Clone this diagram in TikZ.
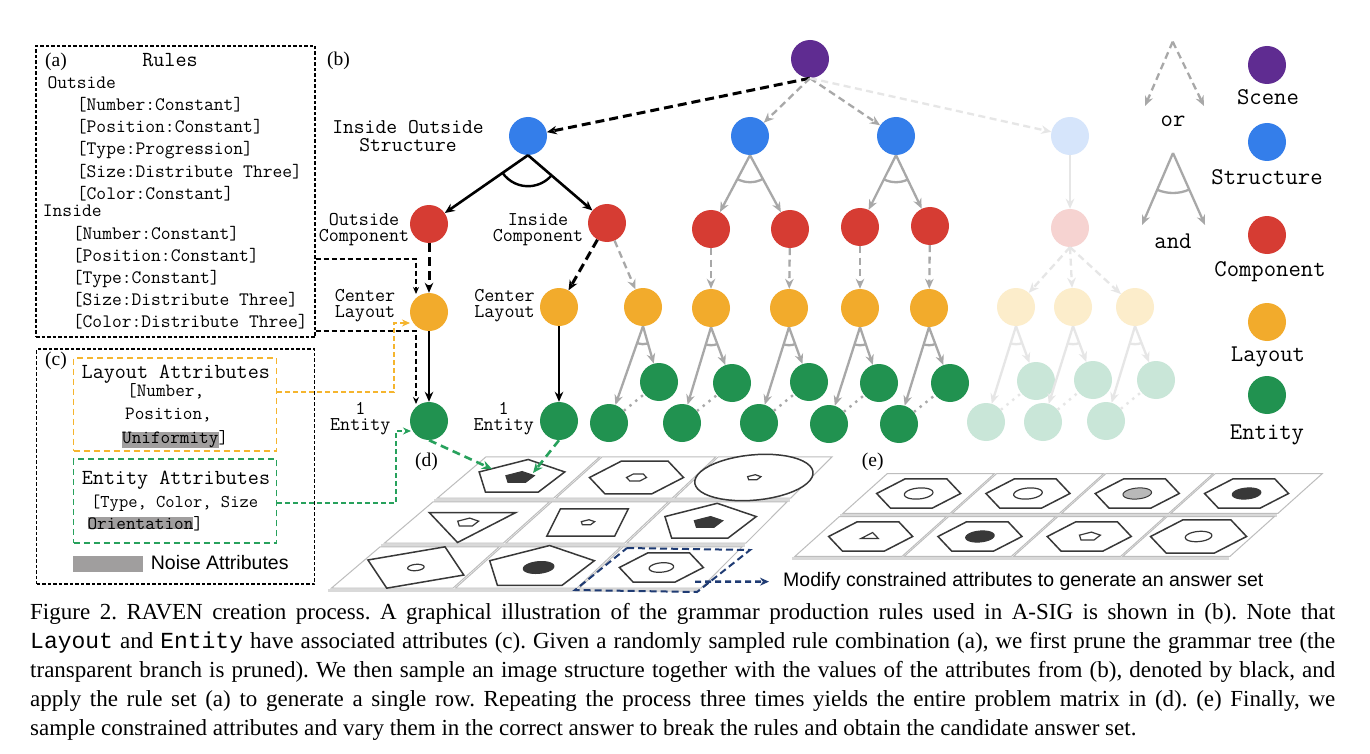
\documentclass[tikz,border=0pt]{standalone}
\usepackage{fontspec}
\setmainfont{Liberation Serif}
\setsansfont{Liberation Sans}
\newfontfamily\capmono{Liberation Mono}
\usetikzlibrary{arrows.meta,calc}
\definecolor{cScene}{HTML}{5F2C91}
\definecolor{cStr}{HTML}{347EEA}
\definecolor{cCmp}{HTML}{D63C33}
\definecolor{cLay}{HTML}{F2AB2C}
\definecolor{cEnt}{HTML}{219250}
\definecolor{cStrF}{HTML}{D6E5FB}
\definecolor{cCmpF}{HTML}{F6D3D1}
\definecolor{cLayF}{HTML}{FCEDCB}
\definecolor{cEntF}{HTML}{C9E6D8}
\definecolor{cGray}{HTML}{A8A8A8}
\definecolor{cLight}{HTML}{E6E6E6}
\definecolor{cOrg}{HTML}{F5B52E}
\definecolor{cGrn}{HTML}{27A15C}
\definecolor{cNavy}{HTML}{1F3B73}
\definecolor{cNoise}{HTML}{A09E9E}
\definecolor{cShape}{HTML}{383838}
\definecolor{cTile}{HTML}{BDBDBD}
\pgfmathdeclarefunction{dX}{2}{\pgfmathparse{487-53*#2+#1*(116+2.7*#2)}}
\pgfmathdeclarefunction{dY}{2}{\pgfmathparse{455+45*#2}}
\pgfmathdeclarefunction{eX}{2}{\pgfmathparse{888-48*#2+#1*109.3}}
\pgfmathdeclarefunction{eY}{2}{\pgfmathparse{472+43*#2}}
\newcommand{\andarc}[5]{\draw[#5] let \p1=(#1), \p2=(#2), \p3=(#3), \n1={atan2(\y2-\y1,\x2-\x1)}, \n2={atan2(\y3-\y1,\x3-\x1)} in (\p1) ++(\n1:#4) arc[start angle=\n1, end angle=\n2, radius=#4];}
\newcommand{\ptile}[3]{% #1 prefix, #2 col, #3 row
  \filldraw[fill=white, draw=cTile, line width=1pt]
   ({#1X(#2+.01,#3+.04)},{#1Y(#2+.01,#3+.04)}) -- ({#1X(#2+.99,#3+.04)},{#1Y(#2+.99,#3+.04)}) --
   ({#1X(#2+.99,#3+.96)},{#1Y(#2+.99,#3+.96)}) -- ({#1X(#2+.01,#3+.96)},{#1Y(#2+.01,#3+.96)}) -- cycle;}
\newcommand{\sh}[8]{% #1 prefix, #2 u, #3 v, #4 n, #5 R, #6 rot, #7 skew, #8 style
  \pgfmathsetmacro\shx{#1X(#2,#3)}\pgfmathsetmacro\shy{#1Y(#2,#3)}\pgfmathtruncatemacro\shn{#4+1}%
  \draw[#8] plot[domain=0:360, samples=\shn, variable=\t] ({\shx+#5*cos(#6+\t)-#7*0.4*#5*sin(#6+\t)},{\shy+0.4*#5*sin(#6+\t)}) -- cycle;}
\newcommand{\hl}[1]{{\setlength{\fboxsep}{0pt}\colorbox{cNoise}{#1}}}
\frenchspacing
\begin{document}
\begin{tikzpicture}[x=1pt,y=-1pt,
  nd/.style={circle,minimum size=38pt,inner sep=0pt},
  scn/.style={nd,fill=cScene}, strn/.style={nd,fill=cStr}, strf/.style={nd,fill=cStrF},
  cmpn/.style={nd,fill=cCmp}, cmpf/.style={nd,fill=cCmpF},
  layn/.style={nd,fill=cLay}, layf/.style={nd,fill=cLayF},
  entn/.style={nd,fill=cEnt}, entf/.style={nd,fill=cEntF},
  tip/.style={-{Stealth[length=10pt,width=8.5pt]}},
  blk/.style={tip,line width=2.6pt,black},
  gry/.style={tip,line width=2.3pt,cGray},
  lgt/.style={tip,line width=2.3pt,cLight},
  dsh/.style={dash pattern=on 7pt off 4.5pt},
  bigdsh/.style={dash pattern=on 9pt off 5pt},
  dotg/.style={line width=2.4pt,cGray,dash pattern=on 2.4pt off 5pt},
  dotl/.style={line width=2.4pt,cLight,dash pattern=on 2.4pt off 5pt},
  arcb/.style={line width=2.4pt,black},
  arcg/.style={line width=2.3pt,cGray},
  arcl/.style={line width=2.3pt,cLight},
  lab2/.style={font=\fontsize{19.5}{16.3}\selectfont\ttfamily,inner sep=0pt,align=center},
  leg/.style={font=\fontsize{24}{24}\selectfont\ttfamily,inner sep=0pt,anchor=base},
  rl/.style={font=\fontsize{19}{22}\selectfont\ttfamily,inner sep=0pt,anchor=base west},
  cl/.style={font=\fontsize{18.7}{22}\selectfont\ttfamily,inner sep=0pt,anchor=base west},
  ser/.style={font=\fontsize{19.5}{20}\selectfont\rmfamily,inner sep=0pt,anchor=base west},
  abox/.style={draw,line width=1.2pt,dash pattern=on 3.5pt off 2pt,inner sep=0pt},
  thinblk/.style={-{Stealth[length=7pt,width=6pt]},line width=1.3pt,black,dash pattern=on 5pt off 3pt},
  orgc/.style={-{Stealth[length=8pt,width=7pt]},line width=1.6pt,cOrg,dash pattern=on 5pt off 3pt},
  grnc/.style={-{Stealth[length=8pt,width=7pt]},line width=1.6pt,cGrn,dash pattern=on 5pt off 3pt},
  grnthick/.style={-{Stealth[length=10pt,width=8.5pt]},line width=2.6pt,cGrn,dash pattern=on 8pt off 5pt},
  outer/.style={draw=cShape,line width=1.5pt,fill=white},
  inw/.style={draw=cShape,line width=1.2pt,fill=white},
  inb/.style={draw=cShape,line width=1pt,fill=cShape},
  ing/.style={draw=cShape,line width=1pt,fill=gray!55},
  capl/.style={font=\fontsize{23}{28}\selectfont\rmfamily,inner sep=0pt,anchor=base west}
]
\path[fill=white] (0,0) rectangle (1370,754);

% ---------------- (a) rules box
\node[abox,minimum width=279pt,minimum height=291pt] (rulesbox) at (175.5,191.5) {};
\node[ser] (alab) at (45,66.7) {(a)};
\node[font=\fontsize{21.5}{22}\selectfont\ttfamily,inner sep=0pt,anchor=base] (rulesT) at (170,66.7) {Rules};
\node[rl] (r0) at (47.3,88.3) {Outside};
\node[rl] (r1) at (76.7,110.7) {[Number:Constant]};
\node[rl] (r2) at (76.7,132.7) {[Position:Constant]};
\node[rl] (r3) at (76.7,155) {[Type:Progression]};
\node[rl] (r4) at (76.7,177.3) {[Size:Distribute Three]};
\node[rl] (r5) at (76.7,199.3) {[Color:Constant]};
\node[rl] (r6) at (42.7,216.7) {Inside};
\node[rl] (r7) at (72.7,239) {[Number:Constant]};
\node[rl] (r8) at (72.7,261.7) {[Position:Constant]};
\node[rl] (r9) at (72.7,283.3) {[Type:Constant]};
\node[rl] (r10) at (72.7,305.7) {[Size:Distribute Three]};
\node[rl] (r11) at (72.7,327.3) {[Color:Distribute Three]};

% ---------------- (c) attributes box
\node[abox,minimum width=278pt,minimum height=235pt] (cbox) at (175.8,466.5) {};
\node[ser] (clab) at (45,365) {(c)};
\node[draw=cOrg,line width=1.8pt,dash pattern=on 6pt off 4pt,minimum width=203pt,minimum height=93pt,inner sep=0pt] (laybox) at (175,404.2) {};
\node[font=\fontsize{21.5}{22}\selectfont\ttfamily,inner sep=0pt,anchor=base] (layT) at (175.8,378.3) {Layout Attributes};
\node[cl] (la1) at (127,396.7) {[Number,};
\node[cl] (la2) at (125,419.3) {Position,};
\node[cl] (la3) at (122,443.3) {\hl{Uniformity}]};
\node[draw=cGrn,line width=1.8pt,dash pattern=on 6pt off 4pt,minimum width=203pt,minimum height=84pt,inner sep=0pt] (entbox) at (175,501.3) {};
\node[font=\fontsize{21.5}{22}\selectfont\ttfamily,inner sep=0pt,anchor=base] (entT) at (176,484) {Entity Attributes};
\node[cl,font=\fontsize{18}{22}\selectfont\ttfamily] (ea1) at (91,507.3) {[Type, Color, Size};
\node[cl] (ea2) at (87.3,529) {\hl{Orientation}]};
\node[fill=cNoise,minimum width=70pt,minimum height=16.6pt,inner sep=0pt] (noisebox) at (108.3,564) {};
\node[font=\fontsize{19.5}{20}\selectfont\sffamily,inner sep=0pt,anchor=base west] (noiseT) at (150.7,569.3) {Noise Attributes};

% ---------------- (b) tree
\node[ser] (blab) at (327,66) {(b)};
\node[scn] (scene) at (810,59) {};
\node[strn] (s1) at (528,136) {};
\node[strn] (s2) at (750,136) {};
\node[strn] (s3) at (896,136) {};
\node[strf] (s4) at (1070,136) {};
\node[cmpn] (c1) at (429,224) {};
\node[cmpn] (c2) at (607,223) {};
\node[cmpn] (c3) at (711,229) {};
\node[cmpn] (c4) at (790,229) {};
\node[cmpn] (c5) at (860,227) {};
\node[cmpn] (c6) at (930,226) {};
\node[cmpf] (c7) at (1070,228) {};
\node[layn] (l1) at (429,312) {};
\node[layn] (l2) at (559,307) {};
\node[layn] (l3) at (643,307) {};
\node[layn] (l4) at (711,308) {};
\node[layn] (l5) at (789,308) {};
\node[layn] (l6) at (860,308) {};
\node[layn] (l7) at (929,308) {};
\node[layf] (l8) at (1016,307) {};
\node[layf] (l9) at (1073,307) {};
\node[layf] (l10) at (1135,307) {};
\node[entn] (e1) at (429,421) {};
\node[entn] (e2) at (559,421) {};
\node[entn] (u3) at (659,382) {};
\node[entn] (u4) at (732,383) {};
\node[entn] (u5) at (809,382) {};
\node[entn] (u6) at (879,383) {};
\node[entn] (u7) at (950,383) {};
\node[entn] (d3) at (609,423) {};
\node[entn] (d4) at (682,423) {};
\node[entn] (d5) at (759,423) {};
\node[entn] (d6) at (829,424) {};
\node[entn] (d7) at (899,424) {};
\node[entf] (u8) at (1036,381) {};
\node[entf] (u9) at (1093,380) {};
\node[entf] (u10) at (1156,380) {};
\node[entf] (d8) at (986,422) {};
\node[entf] (d9) at (1043,422) {};
\node[entf] (d10) at (1106,421) {};

% tree labels
\node[lab2,font=\fontsize{21}{18.5}\selectfont\ttfamily] (tIOS) at (408,136) {Inside Outside\\Structure};
\node[lab2] (tOC) at (364,229.5) {Outside\\Component};
\node[lab2] (tIC) at (538,229.5) {Inside\\Component};
\node[lab2] (tCL1) at (365,305.5) {Center\\Layout};
\node[lab2] (tCL2) at (504.5,305.5) {Center\\Layout};
\node[lab2] (tE1) at (360.3,418.5) {1\\Entity};
\node[lab2] (tE2) at (503.7,418.5) {1\\Entity};

% tree edges
\draw[blk,bigdsh,line width=3pt] (scene.south) -- (s1);
\draw[gry,dsh] (scene.south) -- (s2);
\draw[gry,dsh] (scene.south) -- (s3);
\draw[lgt,dsh] (scene.south) -- (s4);
\draw[blk] (s1.south) -- (c1);
\draw[blk] (s1.south) -- (c2);
\andarc{s1.south}{c1}{c2}{31pt}{arcb}
\draw[gry] (s2.south) -- (c3);
\draw[gry] (s2.south) -- (c4);
\andarc{s2.south}{c3}{c4}{27pt}{arcg}
\draw[gry] (s3.south) -- (c5);
\draw[gry] (s3.south) -- (c6);
\andarc{s3.south}{c5}{c6}{27pt}{arcg}
\draw[lgt] (s4) -- (c7);
\draw[blk,bigdsh,line width=3pt] (c1) -- (l1);
\draw[blk,bigdsh,line width=3pt] (c2) -- (l2);
\draw[gry,dsh] (c2) -- (l3);
\draw[gry,dsh] (c3) -- (l4);
\draw[gry,dsh] (c4) -- (l5);
\draw[gry,dsh] (c5) -- (l6);
\draw[gry,dsh] (c6) -- (l7);
\draw[lgt,dsh] (c7.south) -- (l8);
\draw[lgt,dsh] (c7.south) -- (l9);
\draw[lgt,dsh] (c7.south) -- (l10);
\draw[blk] (l1) -- (e1);
\draw[blk] (l2) -- (e2);
\foreach \k in {3,...,7}{
  \draw[gry] (l\k.south) -- (d\k);
  \draw[gry] (l\k.south) -- (u\k);
  \andarc{l\k.south}{d\k}{u\k}{18pt}{arcg}
  \draw[dotg] (d\k) -- (u\k);
}
\foreach \k in {8,9,10}{
  \draw[lgt] (l\k.south) -- (d\k);
  \draw[lgt] (l\k.south) -- (u\k);
  \andarc{l\k.south}{d\k}{u\k}{18pt}{arcl}
  \draw[dotl] (d\k) -- (u\k);
}

% ---------------- legend
\coordinate (orA) at (1172.7,41.7);
\coordinate (orL) at (1145,106);
\coordinate (orR) at (1204,106);
\draw[gry,dsh] (orA) -- (orL);
\draw[gry,dsh] (orA) -- (orR);
\node[leg] (orT) at (1173,126.7) {or};
\coordinate (andA) at (1173,153);
\coordinate (andL) at (1142,225);
\coordinate (andR) at (1205,225);
\draw[gry] (andA) -- (andL);
\draw[gry] (andA) -- (andR);
\andarc{andA}{andL}{andR}{40pt}{arcg}
\node[leg] (andT) at (1173,248) {and};
\node[scn] (gScene) at (1267,65) {};
\node[leg] (gSceneT) at (1268,105) {Scene};
\node[strn] (gStr) at (1267,142) {};
\node[leg] (gStrT) at (1267,185) {Structure};
\node[cmpn] (gCmp) at (1267,235) {};
\node[leg] (gCmpT) at (1270,276) {Component};
\node[layn] (gLay) at (1267,322) {};
\node[leg] (gLayT) at (1268,361.7) {Layout};
\node[entn] (gEnt) at (1267,395) {};
\node[leg] (gEntT) at (1267,439) {Entity};

% ---------------- connectors from (a) and (c)
\coordinate (kA) at (416,259);
\coordinate (kA2) at (416,294);
\draw[thinblk] (rulesbox.east |- kA) -- (kA) -- (kA2);
\coordinate (kB) at (416,331);
\coordinate (kB2) at (416,404);
\draw[thinblk] (rulesbox.east |- kB) -- (kB) -- (kB2);
\coordinate (oA) at (394,392);
\coordinate (oB) at (394,323);
\coordinate (oC) at (410,323);
\draw[orgc] (laybox.east |- oA) -- (oA) -- (oB) -- (oC);
\coordinate (gA) at (396,503);
\coordinate (gB) at (396,431);
\coordinate (gC) at (411,431);
\draw[grnc] (entbox.east |- gA) -- (gA) -- (gB) -- (gC);

% ---------------- (d) matrix
\node[ser] (dlab) at (415,466.7) {(d)};
\foreach \r in {0,1,2}{
  \draw[line width=3pt,gray!30] ({dX(0,\r+1)},{dY(0,\r+1)}) -- ({dX(3,\r+1)},{dY(3,\r+1)});
  \foreach \c in {0,1,2}{\ptile{d}{\c}{\r}}
}
\sh{d}{0.5}{0.5}{5}{45}{-90}{0.5}{outer}
\sh{d}{0.5}{0.5}{5}{15}{-90}{0.5}{inb}
\sh{d}{1.5}{0.5}{6}{47}{0}{0.5}{outer}
\sh{d}{1.5}{0.5}{6}{10}{0}{0.5}{inw}
\sh{d}{2.5}{0.5}{48}{58}{0}{0.5}{outer}
\sh{d}{2.5}{0.5}{5}{7}{-90}{0.5}{inw}
\sh{d}{0.5}{1.5}{3}{50}{90}{0.5}{outer}
\sh{d}{0.5}{1.5}{5}{11}{-90}{0.5}{inw}
\sh{d}{1.5}{1.5}{4}{48}{45}{0.5}{outer}
\sh{d}{1.5}{1.5}{5}{7}{-90}{0.5}{inw}
\sh{d}{2.5}{1.5}{5}{48}{-90}{0.5}{outer}
\sh{d}{2.5}{1.5}{5}{15}{-90}{0.5}{inb}
\sh{d}{0.5}{2.5}{4}{55}{20}{0.5}{outer}
\sh{d}{0.5}{2.5}{40}{8}{0}{0.5}{inw}
\sh{d}{1.5}{2.5}{5}{55}{-90}{0.5}{outer}
\sh{d}{1.5}{2.5}{40}{15}{0}{0.5}{inb}
\sh{d}{2.5}{2.5}{6}{42}{0}{0.5}{outer}
\sh{d}{2.5}{2.5}{40}{12}{0}{0.5}{inw}
\coordinate (hl1) at (627,548);
\coordinate (hl2) at (750,550);
\coordinate (hl3) at (697,592);
\coordinate (hl4) at (575,590);
\draw[cNavy,line width=2pt,dash pattern=on 7pt off 4pt] (hl1) -- (hl2) -- (hl3) -- (hl4) -- cycle;
\coordinate (dT1) at (492,469);
\coordinate (dT2) at (533,473);
\draw[grnthick] (e1.south) -- (dT1);
\draw[grnthick] (e2.south) -- (dT2);

% ---------------- (e) answer set
\node[ser] (elab) at (861.7,466.7) {(e)};
\foreach \r in {0,1}{
  \draw[line width=3pt,gray!30] ({eX(0,\r+1)},{eY(0,\r+1)}) -- ({eX(4,\r+1)},{eY(4,\r+1)});
  \foreach \c in {0,1,2,3}{\ptile{e}{\c}{\r}}
}
\foreach \c in {0,1,2,3}{\sh{e}{\c+0.5}{0.5}{6}{42}{0}{0.5}{outer}}
\sh{e}{0.5}{0.5}{40}{14}{0}{0.5}{inw}
\sh{e}{1.5}{0.5}{40}{14}{0}{0.5}{inw}
\sh{e}{2.5}{0.5}{40}{14}{0}{0.5}{ing}
\sh{e}{3.5}{0.5}{40}{14}{0}{0.5}{inb}
\sh{e}{0.5}{1.5}{6}{42}{0}{0.5}{outer}
\sh{e}{0.5}{1.5}{3}{10}{-90}{0.5}{inw}
\sh{e}{1.5}{1.5}{6}{42}{0}{0.5}{outer}
\sh{e}{1.5}{1.5}{40}{14}{0}{0.5}{inb}
\sh{e}{2.5}{1.5}{6}{42}{0}{0.5}{outer}
\sh{e}{2.5}{1.5}{5}{11}{-90}{0.5}{inw}
\sh{e}{3.5}{1.5}{6}{48}{0}{0.5}{outer}
\sh{e}{3.5}{1.5}{40}{13}{0}{0.5}{inw}

% answer arrow
\node[font=\fontsize{19.5}{20}\selectfont\sffamily,inner sep=0pt,anchor=base west] (modT) at (783,586.7) {Modify constrained attributes to generate an answer set};
\coordinate (modS) at (695,581.7);
\draw[-{Stealth[length=9pt,width=8pt]},cNavy,line width=2.4pt,dash pattern=on 6pt off 4pt] (modS) -- ([xshift=-14pt]modT.west);

% ---------------- caption
\node[capl] (cap1) at (30,619) {\makebox[1305pt][s]{Figure 2. RAVEN creation process. A graphical illustration of the grammar production rules used in A-SIG is shown in (b). Note that}};
\node[capl] (cap2) at (30,648) {\makebox[1305pt][s]{{\capmono Layout} and {\capmono Entity} have associated attributes (c). Given a randomly sampled rule combination (a), we first prune the grammar tree (the}};
\node[capl] (cap3) at (30,677) {\makebox[1305pt][s]{transparent branch is pruned). We then sample an image structure together with the values of the attributes from (b), denoted by black, and}};
\node[capl] (cap4) at (30,706) {\makebox[1305pt][s]{apply the rule set (a) to generate a single row. Repeating the process three times yields the entire problem matrix in (d). (e) Finally, we}};
\node[capl] (cap5) at (30,735) {sample constrained attributes and vary them in the correct answer to break the rules and obtain the candidate answer set.};
\end{tikzpicture}
\end{document}
